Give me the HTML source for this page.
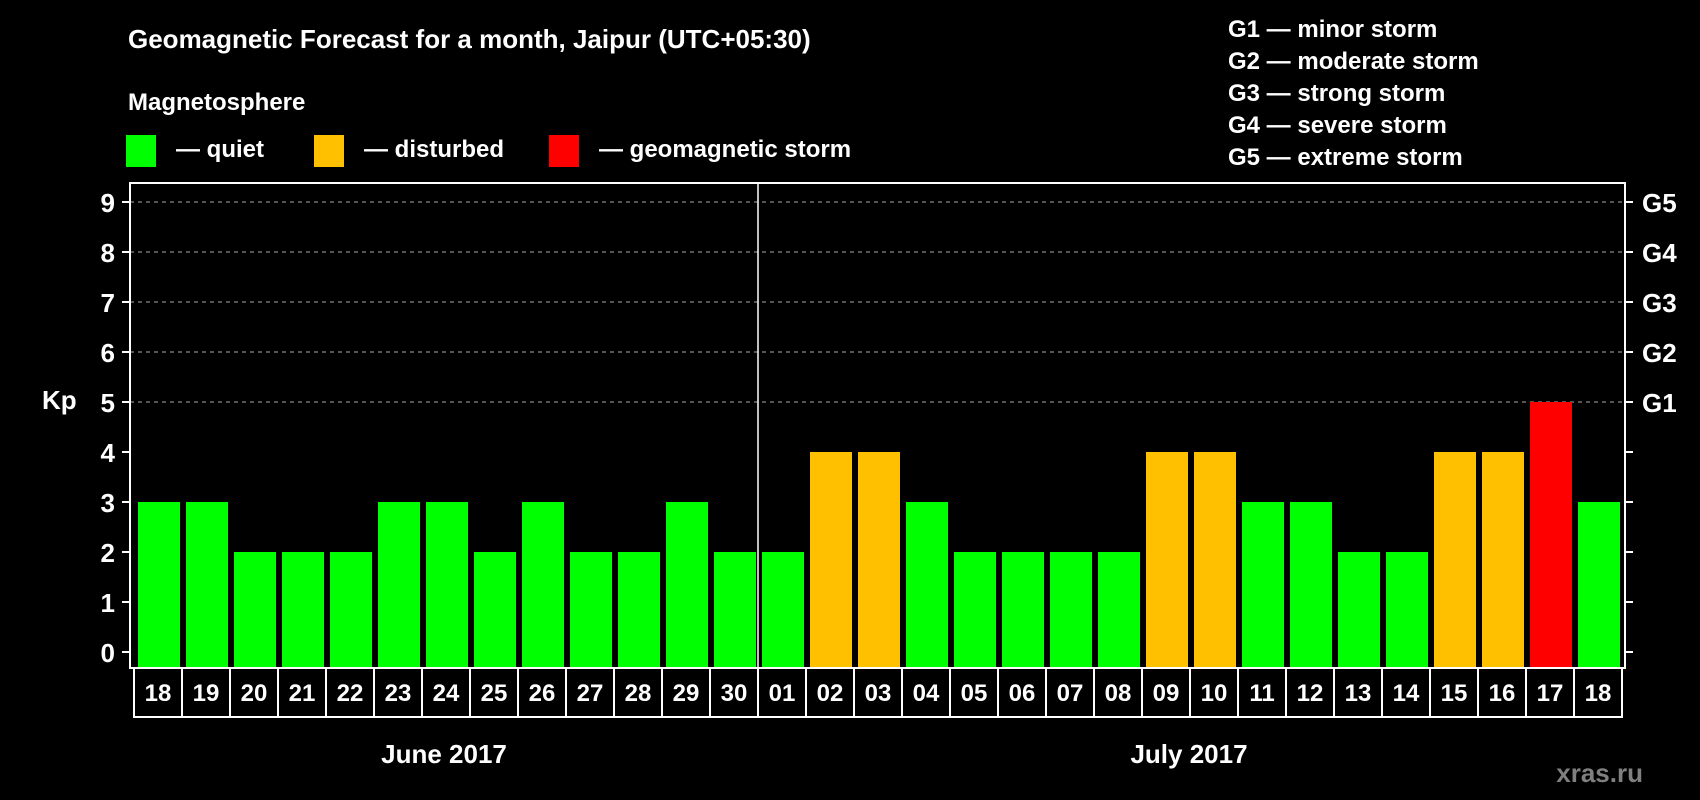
<!DOCTYPE html>
<html><head><meta charset="utf-8"><style>
body{margin:0;background:#000;}
svg{display:block;font-family:"Liberation Sans",Arial,sans-serif;font-weight:bold;}
</style></head><body>
<svg id="chart" width="1700" height="800" viewBox="0 0 1700 800">
<rect width="1700" height="800" fill="#000"/>
<text x="128" y="48" fill="#fff" font-size="26">Geomagnetic Forecast for a month, Jaipur (UTC+05:30)</text>
<text x="128" y="110" fill="#fff" font-size="24">Magnetosphere</text>
<g><rect x="126" y="135" width="30" height="32" fill="#00ff00"/><text x="176" y="157" fill="#fff" font-size="24">— quiet</text></g>
<g><rect x="314" y="135" width="30" height="32" fill="#ffc000"/><text x="364" y="157" fill="#fff" font-size="24">— disturbed</text></g>
<g><rect x="549" y="135" width="30" height="32" fill="#ff0000"/><text x="599" y="157" fill="#fff" font-size="24">— geomagnetic storm</text></g>
<g fill="#fff" font-size="24">
<text x="1228" y="37">G1 — minor storm</text>
<text x="1228" y="69">G2 — moderate storm</text>
<text x="1228" y="101">G3 — strong storm</text>
<text x="1228" y="133">G4 — severe storm</text>
<text x="1228" y="165">G5 — extreme storm</text>
</g>
<text x="42" y="409" fill="#fff" font-size="26">Kp</text>
<text x="444" y="763" fill="#fff" font-size="26" text-anchor="middle">June 2017</text>
<text x="1189" y="763" fill="#fff" font-size="26" text-anchor="middle">July 2017</text>
<text x="1643" y="782" fill="#808080" font-size="26" text-anchor="end">xras.ru</text>
<g id="plot"></g>
</svg>
<script>
const days=["18","19","20","21","22","23","24","25","26","27","28","29","30","01","02","03","04","05","06","07","08","09","10","11","12","13","14","15","16","17","18"];
const kpValues=[3,3,2,2,2,3,3,2,3,2,2,3,2,2,4,4,3,2,2,2,2,4,4,3,3,2,2,4,4,5,3];
const yTicks=[0,1,2,3,4,5,6,7,8,9];
const gLabels=["G1","G2","G3","G4","G5"];
const NS="http://www.w3.org/2000/svg";
const g=document.getElementById('plot');
const L=130,R=1625,T=183,B=668,x0=134,pitch=48;
const y=v=>652-v*50;
const x=i=>x0+i*pitch;
function mk(t,a){const e=document.createElementNS(NS,t);for(const k in a)e.setAttribute(k,a[k]);g.appendChild(e);return e;}
yTicks.forEach(v=>{
 if(v>=5){const gl=mk('line',{x1:L,x2:R,y1:y(v),y2:y(v),stroke:'#aaa','stroke-width':1,'stroke-dasharray':'4,4'});
 
 }
 const t1=mk('line',{x1:L-8,x2:L,y1:y(v),y2:y(v),stroke:'#fff','stroke-width':2});
 
 
 const t2=mk('line',{x1:R,x2:R+8,y1:y(v),y2:y(v),stroke:'#fff','stroke-width':2});
 
 
 const tl=mk('text',{x:115,y:y(v)+10,fill:'#fff','font-size':26,'text-anchor':'end'});
 tl.textContent=v;
 
 
});
gLabels.forEach((s,i)=>{
 const t=mk('text',{x:1642,y:y(i+5)+10,fill:'#fff','font-size':26});
 t.textContent=s;
 
 
});
kpValues.forEach((v,i)=>{
 const c=v>=5?'#ff0000':(v>=4?'#ffc000':'#00ff00');
 const r=mk('rect',{x:x(i)+4,y:y(v),width:42,height:B-y(v),fill:c});
 
 
 const b=mk('rect',{x:x(i),y:B,width:pitch,height:49,fill:'none',stroke:'#fff','stroke-width':2});
 
 
 const t=mk('text',{x:x(i)+pitch/2,y:701,fill:'#fff','font-size':24,'text-anchor':'middle'});
 t.textContent=days[i];
 
 
});
const fr=mk('rect',{x:L,y:T,width:R-L,height:B-T,fill:'none',stroke:'#fff','stroke-width':2});


const mi=days.indexOf("01");
const dv=mk('line',{x1:x(mi),x2:x(mi),y1:T,y2:B,stroke:'#fff','stroke-width':1.5});


</script>
</body></html>
